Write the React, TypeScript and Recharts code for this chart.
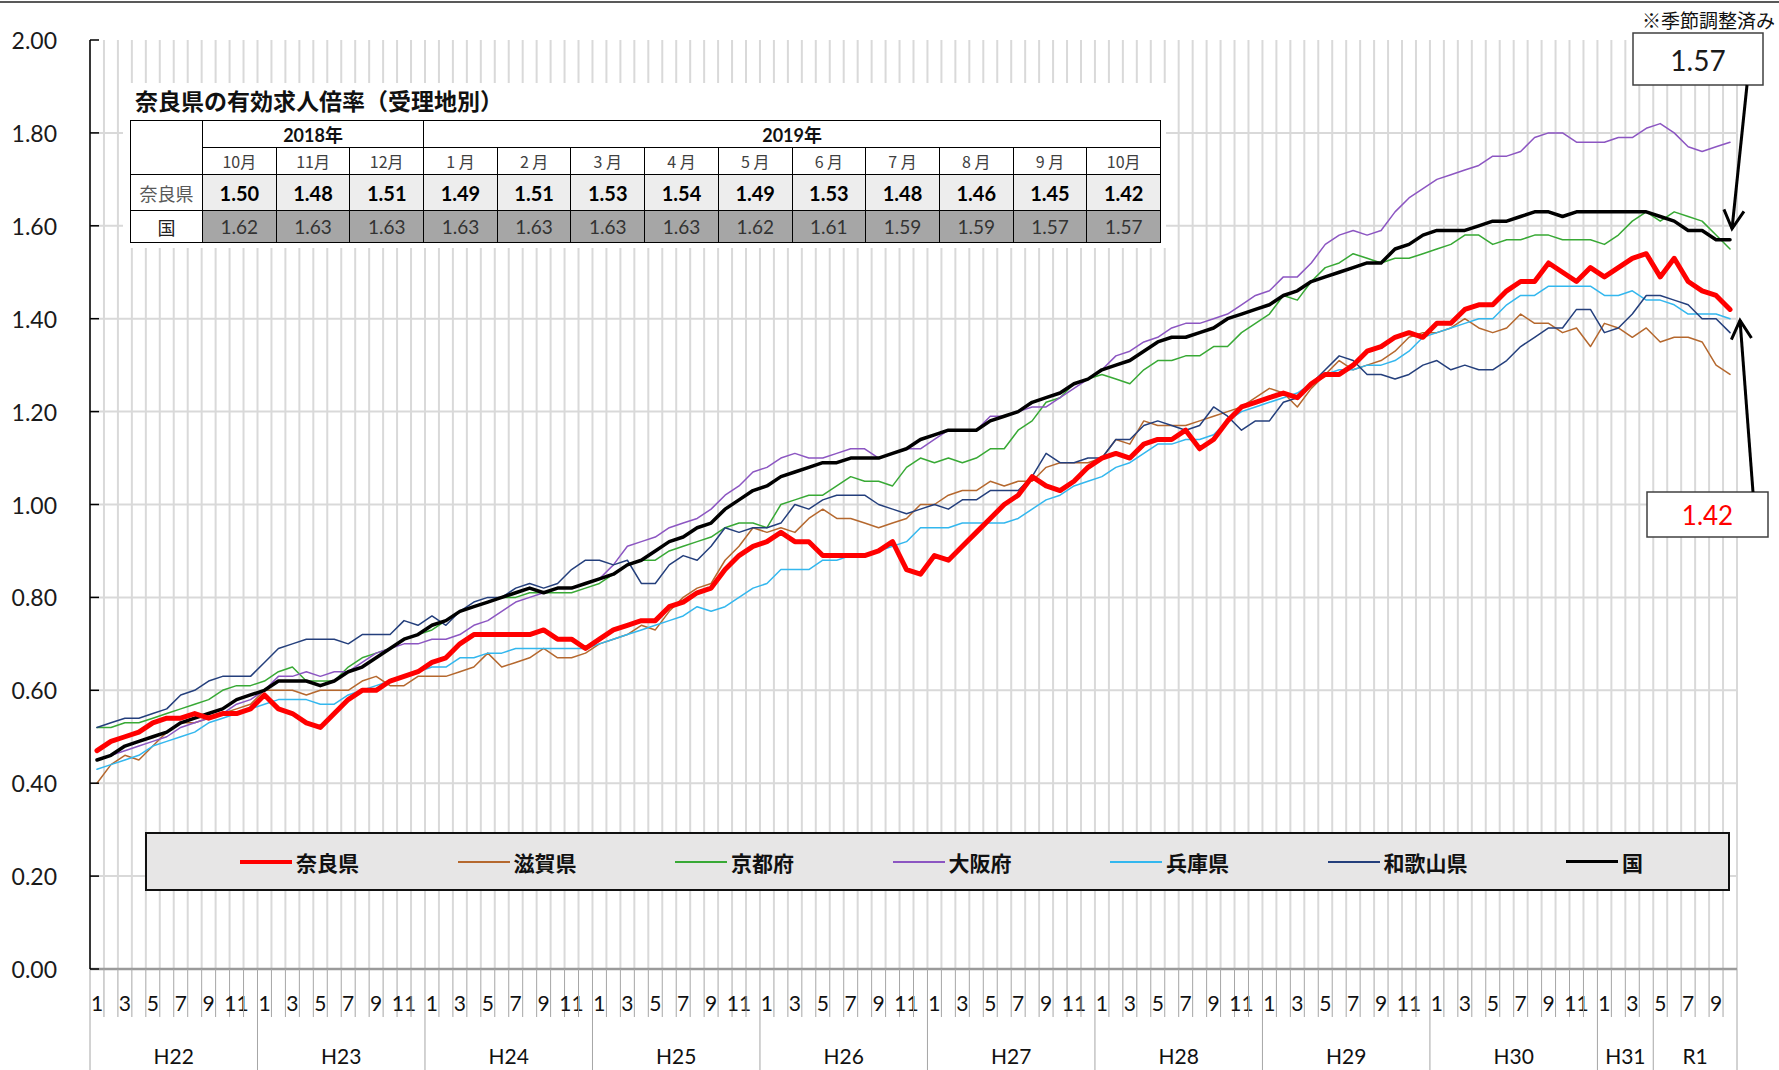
import React from 'react';
import { LineChart, Line, XAxis, YAxis, CartesianGrid, Legend } from 'recharts';

// ---------------- data ----------------
const YEAR_LABELS = ['H22', 'H23', 'H24', 'H25', 'H26', 'H27', 'H28', 'H29', 'H30', 'H31', 'R1'];
const YEAR_MONTH_COUNTS = [12, 12, 12, 12, 12, 12, 12, 12, 12, 4, 6];
const YEAR_FIRST_MONTHS = [1, 1, 1, 1, 1, 1, 1, 1, 1, 1, 5];

const NARA = [
  0.47, 0.49, 0.50, 0.51, 0.53, 0.54, 0.54, 0.55, 0.54, 0.55, 0.55, 0.56,
  0.59, 0.56, 0.55, 0.53, 0.52, 0.55, 0.58, 0.60, 0.60, 0.62, 0.63, 0.64,
  0.66, 0.67, 0.70, 0.72, 0.72, 0.72, 0.72, 0.72, 0.73, 0.71, 0.71, 0.69,
  0.71, 0.73, 0.74, 0.75, 0.75, 0.78, 0.79, 0.81, 0.82, 0.86, 0.89, 0.91,
  0.92, 0.94, 0.92, 0.92, 0.89, 0.89, 0.89, 0.89, 0.90, 0.92, 0.86, 0.85,
  0.89, 0.88, 0.91, 0.94, 0.97, 1.00, 1.02, 1.06, 1.04, 1.03, 1.05, 1.08,
  1.10, 1.11, 1.10, 1.13, 1.14, 1.14, 1.16, 1.12, 1.14, 1.18, 1.21, 1.22,
  1.23, 1.24, 1.23, 1.26, 1.28, 1.28, 1.30, 1.33, 1.34, 1.36, 1.37, 1.36,
  1.39, 1.39, 1.42, 1.43, 1.43, 1.46, 1.48, 1.48, 1.52, 1.50, 1.48, 1.51,
  1.49, 1.51, 1.53, 1.54,
  1.49, 1.53, 1.48, 1.46, 1.45, 1.42,
];

const SHIGA = [
  0.40, 0.44, 0.46, 0.45, 0.48, 0.51, 0.53, 0.53, 0.54, 0.55, 0.56, 0.57,
  0.60, 0.60, 0.60, 0.59, 0.60, 0.60, 0.60, 0.62, 0.63, 0.61, 0.61, 0.63,
  0.63, 0.63, 0.64, 0.65, 0.68, 0.65, 0.66, 0.67, 0.69, 0.67, 0.67, 0.68,
  0.70, 0.71, 0.72, 0.74, 0.73, 0.77, 0.80, 0.82, 0.83, 0.88, 0.91, 0.95,
  0.94, 0.95, 0.94, 0.97, 0.99, 0.97, 0.97, 0.96, 0.95, 0.96, 0.97, 1.00,
  1.00, 1.02, 1.03, 1.03, 1.05, 1.04, 1.05, 1.05, 1.08, 1.09, 1.09, 1.09,
  1.10, 1.14, 1.13, 1.18, 1.17, 1.17, 1.17, 1.18, 1.19, 1.20, 1.21, 1.23,
  1.25, 1.24, 1.21, 1.25, 1.28, 1.31, 1.29, 1.30, 1.31, 1.33, 1.36, 1.37,
  1.37, 1.38, 1.40, 1.38, 1.37, 1.38, 1.41, 1.39, 1.39, 1.37, 1.38, 1.34,
  1.39, 1.38, 1.36, 1.38,
  1.35, 1.36, 1.36, 1.35, 1.30, 1.28,
];

const KYOTO = [
  0.52, 0.52, 0.53, 0.53, 0.54, 0.55, 0.56, 0.57, 0.58, 0.60, 0.61, 0.61,
  0.62, 0.64, 0.65, 0.62, 0.62, 0.62, 0.65, 0.67, 0.68, 0.69, 0.71, 0.72,
  0.73, 0.75, 0.77, 0.78, 0.79, 0.80, 0.80, 0.81, 0.81, 0.81, 0.81, 0.82,
  0.83, 0.85, 0.87, 0.88, 0.88, 0.90, 0.91, 0.92, 0.93, 0.95, 0.96, 0.96,
  0.95, 1.00, 1.01, 1.02, 1.02, 1.04, 1.06, 1.05, 1.05, 1.04, 1.08, 1.10,
  1.09, 1.10, 1.09, 1.10, 1.12, 1.12, 1.16, 1.18, 1.22, 1.23, 1.26, 1.27,
  1.28, 1.27, 1.26, 1.29, 1.31, 1.31, 1.32, 1.32, 1.34, 1.34, 1.37, 1.39,
  1.41, 1.45, 1.44, 1.48, 1.51, 1.52, 1.54, 1.53, 1.52, 1.53, 1.53, 1.54,
  1.55, 1.56, 1.58, 1.58, 1.56, 1.57, 1.57, 1.58, 1.58, 1.57, 1.57, 1.57,
  1.56, 1.58, 1.61, 1.63,
  1.61, 1.63, 1.62, 1.61, 1.58, 1.55,
];

const OSAKA = [
  0.45, 0.46, 0.47, 0.48, 0.49, 0.50, 0.52, 0.53, 0.54, 0.55, 0.57, 0.58,
  0.60, 0.63, 0.63, 0.64, 0.63, 0.64, 0.64, 0.66, 0.68, 0.69, 0.70, 0.70,
  0.71, 0.71, 0.72, 0.74, 0.75, 0.77, 0.79, 0.80, 0.81, 0.82, 0.82, 0.83,
  0.84, 0.87, 0.91, 0.92, 0.93, 0.95, 0.96, 0.97, 0.99, 1.02, 1.04, 1.07,
  1.08, 1.10, 1.11, 1.10, 1.10, 1.11, 1.12, 1.12, 1.10, 1.11, 1.12, 1.12,
  1.14, 1.16, 1.16, 1.16, 1.19, 1.19, 1.20, 1.21, 1.21, 1.23, 1.25, 1.27,
  1.29, 1.32, 1.33, 1.35, 1.36, 1.38, 1.39, 1.39, 1.40, 1.41, 1.43, 1.45,
  1.46, 1.49, 1.49, 1.52, 1.56, 1.58, 1.59, 1.58, 1.59, 1.63, 1.66, 1.68,
  1.70, 1.71, 1.72, 1.73, 1.75, 1.75, 1.76, 1.79, 1.80, 1.80, 1.78, 1.78,
  1.78, 1.79, 1.79, 1.81,
  1.82, 1.80, 1.77, 1.76, 1.77, 1.78,
];

const HYOGO = [
  0.43, 0.44, 0.45, 0.46, 0.48, 0.49, 0.50, 0.51, 0.53, 0.54, 0.55, 0.56,
  0.57, 0.58, 0.58, 0.58, 0.57, 0.57, 0.59, 0.60, 0.61, 0.62, 0.63, 0.64,
  0.65, 0.65, 0.67, 0.67, 0.68, 0.68, 0.69, 0.69, 0.69, 0.69, 0.69, 0.69,
  0.70, 0.71, 0.72, 0.73, 0.74, 0.75, 0.76, 0.78, 0.77, 0.78, 0.80, 0.82,
  0.83, 0.86, 0.86, 0.86, 0.88, 0.88, 0.89, 0.89, 0.90, 0.91, 0.92, 0.95,
  0.95, 0.95, 0.96, 0.96, 0.96, 0.96, 0.97, 0.99, 1.01, 1.02, 1.04, 1.05,
  1.06, 1.08, 1.09, 1.11, 1.13, 1.13, 1.14, 1.14, 1.15, 1.18, 1.20, 1.21,
  1.22, 1.23, 1.24, 1.26, 1.28, 1.29, 1.29, 1.30, 1.30, 1.31, 1.33, 1.36,
  1.37, 1.38, 1.39, 1.40, 1.40, 1.43, 1.45, 1.45, 1.47, 1.47, 1.47, 1.47,
  1.45, 1.45, 1.46, 1.44,
  1.44, 1.43, 1.41, 1.41, 1.41, 1.40,
];

const WAKAYAMA = [
  0.52, 0.53, 0.54, 0.54, 0.55, 0.56, 0.59, 0.60, 0.62, 0.63, 0.63, 0.63,
  0.66, 0.69, 0.70, 0.71, 0.71, 0.71, 0.70, 0.72, 0.72, 0.72, 0.75, 0.74,
  0.76, 0.74, 0.77, 0.79, 0.80, 0.80, 0.82, 0.83, 0.82, 0.83, 0.86, 0.88,
  0.88, 0.87, 0.88, 0.83, 0.83, 0.87, 0.89, 0.88, 0.91, 0.95, 0.94, 0.95,
  0.95, 0.96, 1.00, 0.99, 1.01, 1.02, 1.02, 1.02, 1.00, 0.99, 0.98, 0.99,
  1.00, 0.99, 1.01, 1.01, 1.03, 1.03, 1.03, 1.06, 1.11, 1.09, 1.09, 1.10,
  1.10, 1.14, 1.14, 1.17, 1.18, 1.17, 1.16, 1.17, 1.21, 1.19, 1.16, 1.18,
  1.18, 1.22, 1.23, 1.26, 1.29, 1.32, 1.31, 1.28, 1.28, 1.27, 1.28, 1.30,
  1.31, 1.29, 1.30, 1.29, 1.29, 1.31, 1.34, 1.36, 1.38, 1.38, 1.42, 1.42,
  1.37, 1.38, 1.41, 1.45,
  1.45, 1.44, 1.43, 1.40, 1.40, 1.37,
];

const NATIONAL = [
  0.45, 0.46, 0.48, 0.49, 0.50, 0.51, 0.53, 0.54, 0.55, 0.56, 0.58, 0.59,
  0.60, 0.62, 0.62, 0.62, 0.61, 0.62, 0.64, 0.65, 0.67, 0.69, 0.71, 0.72,
  0.74, 0.75, 0.77, 0.78, 0.79, 0.80, 0.81, 0.82, 0.81, 0.82, 0.82, 0.83,
  0.84, 0.85, 0.87, 0.88, 0.90, 0.92, 0.93, 0.95, 0.96, 0.99, 1.01, 1.03,
  1.04, 1.06, 1.07, 1.08, 1.09, 1.09, 1.10, 1.10, 1.10, 1.11, 1.12, 1.14,
  1.15, 1.16, 1.16, 1.16, 1.18, 1.19, 1.20, 1.22, 1.23, 1.24, 1.26, 1.27,
  1.29, 1.30, 1.31, 1.33, 1.35, 1.36, 1.36, 1.37, 1.38, 1.40, 1.41, 1.42,
  1.43, 1.45, 1.46, 1.48, 1.49, 1.50, 1.51, 1.52, 1.52, 1.55, 1.56, 1.58,
  1.59, 1.59, 1.59, 1.60, 1.61, 1.61, 1.62, 1.63, 1.63, 1.62, 1.63, 1.63,
  1.63, 1.63, 1.63, 1.63,
  1.62, 1.61, 1.59, 1.59, 1.57, 1.57,
];

const Y_TICKS = [0, 0.2, 0.4, 0.6, 0.8, 1.0, 1.2, 1.4, 1.6, 1.8, 2.0];
const Y_GRID = [0.2, 0.4, 0.6, 0.8, 1.0, 1.2, 1.4, 1.6, 1.8];
const Y_MAX = 2.0;

const TITLE = '奈良県の有効求人倍率（受理地別）';
const NOTE = '※季節調整済み';
const TABLE_YEARS = ['2018年', '2019年'];
const TABLE_YEAR_SPANS = [3, 10];
const TABLE_MONTHS = ['10月', '11月', '12月', '1 月', '2 月', '3 月', '4 月', '5 月', '6 月', '7 月', '8 月', '9 月', '10月'];
const TABLE_ROW_LABELS = ['奈良県', '国'];

// ---------------- layout ----------------
const CHART_W = 1779;
const CHART_H = 1070;
const M_TOP = 40;
const M_RIGHT = 42;
const Y_AXIS_W = 90;
const X_AXIS_H = 101;
const PLOT_W = CHART_W - Y_AXIS_W - M_RIGHT;
const PLOT_H = CHART_H - M_TOP - X_AXIS_H;

const LATIN = 'Lato, "Noto Sans CJK JP", sans-serif';
const CJK = '"Noto Sans CJK JP", sans-serif';

const MONTH_NUMS: number[] = [];
const GROUP_START: number[] = [];
YEAR_LABELS.forEach((_, g) => {
  GROUP_START.push(MONTH_NUMS.length);
  for (let m = 0; m < YEAR_MONTH_COUNTS[g]; m++) MONTH_NUMS.push(YEAR_FIRST_MONTHS[g] + m);
});
const N = MONTH_NUMS.length;
const STEP = PLOT_W / N;
const X_BOUNDS = Array.from({ length: N + 1 }, (_, k) => k - 0.5);

const SERIES = [
  { key: 'nara', name: '奈良県', data: NARA, color: '#ff0000', width: 5 },
  { key: 'shiga', name: '滋賀県', data: SHIGA, color: '#b5682e', width: 1.5 },
  { key: 'kyoto', name: '京都府', data: KYOTO, color: '#38a935', width: 1.5 },
  { key: 'osaka', name: '大阪府', data: OSAKA, color: '#8c56c2', width: 1.5 },
  { key: 'hyogo', name: '兵庫県', data: HYOGO, color: '#33b7ee', width: 1.5 },
  { key: 'wakayama', name: '和歌山県', data: WAKAYAMA, color: '#243f7c', width: 1.5 },
  { key: 'national', name: '国', data: NATIONAL, color: '#000000', width: 3.5 },
];
const DRAW_ORDER = ['shiga', 'kyoto', 'osaka', 'hyogo', 'wakayama', 'national', 'nara'];

const rows = MONTH_NUMS.map((_, i) => {
  const r: Record<string, number> = { idx: i };
  SERIES.forEach((s) => {
    r[s.key] = s.data[i];
  });
  return r;
});

// ---------------- axis ticks ----------------
const XTick = (props: any) => {
  const { x, y, payload } = props;
  const k = Math.round(payload.value + 0.5);
  const g = GROUP_START.indexOf(k);
  const isGroupEdge = g >= 0 || k === N;
  return (
    <g>
      <line x1={x} x2={x} y1={y} y2={y + (isGroupEdge ? X_AXIS_H : 48)} stroke="#a6a6a6" strokeWidth={1} />
      {k < N && MONTH_NUMS[k] % 2 === 1 ? (
        <text x={x + STEP / 2} y={y + 33} textAnchor="middle" dominantBaseline="central" fontFamily={LATIN} fontSize={21} fill="#111">
          {MONTH_NUMS[k]}
        </text>
      ) : null}
      {g >= 0 ? (
        <text x={x + (YEAR_MONTH_COUNTS[g] * STEP) / 2} y={y + 86} textAnchor="middle" dominantBaseline="central" fontFamily={LATIN} fontSize={21} fill="#111">
          {YEAR_LABELS[g]}
        </text>
      ) : null}
    </g>
  );
};

const Y_TICK_MARGIN = 33;
const YTick = (props: any) => {
  const { x, y, payload } = props;
  return (
    <g>
      <line x1={x + Y_TICK_MARGIN} x2={x + Y_TICK_MARGIN + 9} y1={y} y2={y} stroke="#000" strokeWidth={1.5} />
      <text x={x} y={y} textAnchor="end" dominantBaseline="central" fontFamily={LATIN} fontSize={23} fill="#1a1a1a">
        {Number(payload.value).toFixed(2)}
      </text>
    </g>
  );
};

// ---------------- legend ----------------
const LegendContent = (props: any) => {
  const payload: any[] = props.payload || [];
  const order = SERIES.map((s) => s.key);
  const items = [...payload].sort((a, b) => order.indexOf(a.dataKey) - order.indexOf(b.dataKey));
  return (
    <div
      style={{
        boxSizing: 'border-box',
        width: '100%',
        height: '100%',
        background: '#e7e6e6',
        border: '2px solid #111',
        display: 'flex',
        alignItems: 'center',
        paddingLeft: 93,
        gap: 98.5,
      }}
    >
      {items.map((it) => {
        const s = SERIES.find((q) => q.key === it.dataKey)!;
        return (
          <div key={it.dataKey} style={{ display: 'flex', alignItems: 'center' }}>
            <div style={{ width: 52, height: Math.max(2, s.width - 1), background: s.color }} />
            <span style={{ marginLeft: 4, fontFamily: CJK, fontWeight: 700, fontSize: 21, color: '#111', lineHeight: '24px' }}>
              {it.value}
            </span>
          </div>
        );
      })}
    </div>
  );
};

// ---------------- table ----------------
const FIRST_COL_W = 72;
const COL_W = 73.7;
const DataTable = () => {
  const nCols = TABLE_MONTHS.length;
  const naraVals = NARA.slice(-nCols);
  const natVals = NATIONAL.slice(-nCols);
  const cell: React.CSSProperties = {
    border: '1px solid #000',
    textAlign: 'center',
    verticalAlign: 'middle',
    padding: 0,
    fontFamily: LATIN,
    whiteSpace: 'nowrap',
  };
  return (
    <div style={{ position: 'absolute', left: 123, top: 83, width: 1043, height: 165, background: '#fff', zIndex: 5 }}>
      <div
        style={{
          position: 'absolute',
          left: 12,
          top: 5,
          fontFamily: CJK,
          fontWeight: 700,
          fontSize: 23,
          lineHeight: '24px',
          color: '#111',
          whiteSpace: 'nowrap',
        }}
      >
        {TITLE}
      </div>
      <table
        style={{
          position: 'absolute',
          left: 7,
          top: 37,
          width: FIRST_COL_W + COL_W * nCols,
          borderCollapse: 'collapse',
          tableLayout: 'fixed',
        }}
      >
        <colgroup>
          <col style={{ width: FIRST_COL_W }} />
          {TABLE_MONTHS.map((_, i) => (
            <col key={i} style={{ width: COL_W }} />
          ))}
        </colgroup>
        <tbody>
          <tr style={{ height: 27 }}>
            <td rowSpan={2} style={cell} />
            {TABLE_YEARS.map((y, i) => (
              <td key={i} colSpan={TABLE_YEAR_SPANS[i]} style={{ ...cell, fontWeight: 700, fontSize: 18, color: '#111' }}>
                {y}
              </td>
            ))}
          </tr>
          <tr style={{ height: 27 }}>
            {TABLE_MONTHS.map((m, i) => (
              <td key={i} style={{ ...cell, fontFamily: CJK, fontSize: 16, color: '#404040' }}>
                {m}
              </td>
            ))}
          </tr>
          <tr style={{ height: 36 }}>
            <td style={{ ...cell, fontFamily: CJK, fontSize: 18, color: '#595959' }}>{TABLE_ROW_LABELS[0]}</td>
            {naraVals.map((v, i) => (
              <td key={i} style={{ ...cell, background: '#ededed', fontWeight: 700, fontSize: 20, color: '#000' }}>
                {v.toFixed(2)}
              </td>
            ))}
          </tr>
          <tr style={{ height: 32 }}>
            <td style={{ ...cell, fontFamily: CJK, fontSize: 18, color: '#222' }}>{TABLE_ROW_LABELS[1]}</td>
            {natVals.map((v, i) => (
              <td key={i} style={{ ...cell, background: '#a6a6a6', fontSize: 19, color: '#333' }}>
                {v.toFixed(2)}
              </td>
            ))}
          </tr>
        </tbody>
      </table>
    </div>
  );
};

// ---------------- annotations ----------------
const arrowHead = (tx: number, ty: number, fx: number, fy: number, len = 21, ang = 0.5) => {
  const a = Math.atan2(fy - ty, fx - tx);
  const p1 = [tx + len * Math.cos(a + ang), ty + len * Math.sin(a + ang)];
  const p2 = [tx + len * Math.cos(a - ang), ty + len * Math.sin(a - ang)];
  return `M${p1[0]},${p1[1]} L${tx},${ty} L${p2[0]},${p2[1]}`;
};

const Annotations = () => {
  const lastX = Y_AXIS_W + PLOT_W - STEP / 2;
  const yOf = (v: number) => M_TOP + ((Y_MAX - v) / Y_MAX) * PLOT_H;
  const natVal = NATIONAL[N - 1];
  const naraVal = NARA[N - 1];
  const t1 = { x: lastX + 2, y: yOf(natVal) - 11 };
  const f1 = { x: 1747, y: 85 };
  const t2 = { x: lastX + 10, y: yOf(naraVal) + 11 };
  const f2 = { x: 1753, y: 492 };
  return (
    <svg width={CHART_W} height={CHART_H} style={{ position: 'absolute', left: 0, top: 0, zIndex: 10, pointerEvents: 'none' }}>
      <line x1={0} x2={CHART_W} y1={2} y2={2} stroke="#595959" strokeWidth={2} />
      <text x={CHART_W - 4} y={19} textAnchor="end" dominantBaseline="central" fontFamily={CJK} fontSize={19} fill="#111">
        {NOTE}
      </text>
      <rect x={1633} y={33} width={130} height={52} fill="#fff" stroke="#404040" strokeWidth={1.5} />
      <text x={1698} y={60} textAnchor="middle" dominantBaseline="central" fontFamily={LATIN} fontSize={28} fill="#1a1a1a">
        {natVal.toFixed(2)}
      </text>
      <line x1={f1.x} y1={f1.y} x2={t1.x} y2={t1.y} stroke="#000" strokeWidth={3} />
      <path d={arrowHead(t1.x, t1.y, f1.x, f1.y)} fill="none" stroke="#000" strokeWidth={3} />
      <rect x={1647} y={492} width={121} height={45} fill="#fff" stroke="#404040" strokeWidth={1.5} />
      <text x={1707.5} y={515} textAnchor="middle" dominantBaseline="central" fontFamily={LATIN} fontSize={26} fill="#ff0000">
        {naraVal.toFixed(2)}
      </text>
      <line x1={f2.x} y1={f2.y} x2={t2.x} y2={t2.y} stroke="#000" strokeWidth={3} />
      <path d={arrowHead(t2.x, t2.y, f2.x, f2.y)} fill="none" stroke="#000" strokeWidth={3} />
    </svg>
  );
};

// ---------------- app ----------------
export default function App() {
  const drawSeries = DRAW_ORDER.map((k) => SERIES.find((s) => s.key === k)!);
  return (
    <div style={{ position: 'absolute', left: 0, top: 0, width: CHART_W, height: CHART_H, background: '#fff', overflow: 'hidden' }}>
      <LineChart width={CHART_W} height={CHART_H} data={rows} margin={{ top: M_TOP, right: M_RIGHT, bottom: 0, left: 0 }}>
        <CartesianGrid stroke="#d9d9d9" strokeWidth={2} horizontalValues={Y_GRID} />
        <XAxis
          dataKey="idx"
          type="number"
          domain={[-0.5, N - 0.5]}
          ticks={X_BOUNDS}
          interval={0}
          height={X_AXIS_H}
          tickSize={0}
          tickMargin={0}
          tickLine={false}
          axisLine={{ stroke: '#9a9a9a', strokeWidth: 2.5 }}
          tick={<XTick />}
          allowDataOverflow
        />
        <YAxis
          type="number"
          domain={[0, Y_MAX]}
          ticks={Y_TICKS}
          interval={0}
          width={Y_AXIS_W}
          tickSize={0}
          tickMargin={Y_TICK_MARGIN}
          tickLine={false}
          axisLine={{ stroke: '#000', strokeWidth: 1.5 }}
          tick={<YTick />}
          allowDataOverflow
        />
        <Legend
          layout="horizontal"
          verticalAlign="middle"
          align="center"
          width={1585}
          height={59}
          wrapperStyle={{ left: 145, top: 832, width: 1585, height: 59 }}
          content={<LegendContent />}
        />
        {drawSeries.map((s) => (
          <Line
            key={s.key}
            type="linear"
            dataKey={s.key}
            name={s.name}
            stroke={s.color}
            strokeWidth={s.width}
            strokeLinejoin="round"
            strokeLinecap="round"
            dot={false}
            activeDot={false}
            isAnimationActive={false}
          />
        ))}
      </LineChart>
      <DataTable />
      <Annotations />
    </div>
  );
}
